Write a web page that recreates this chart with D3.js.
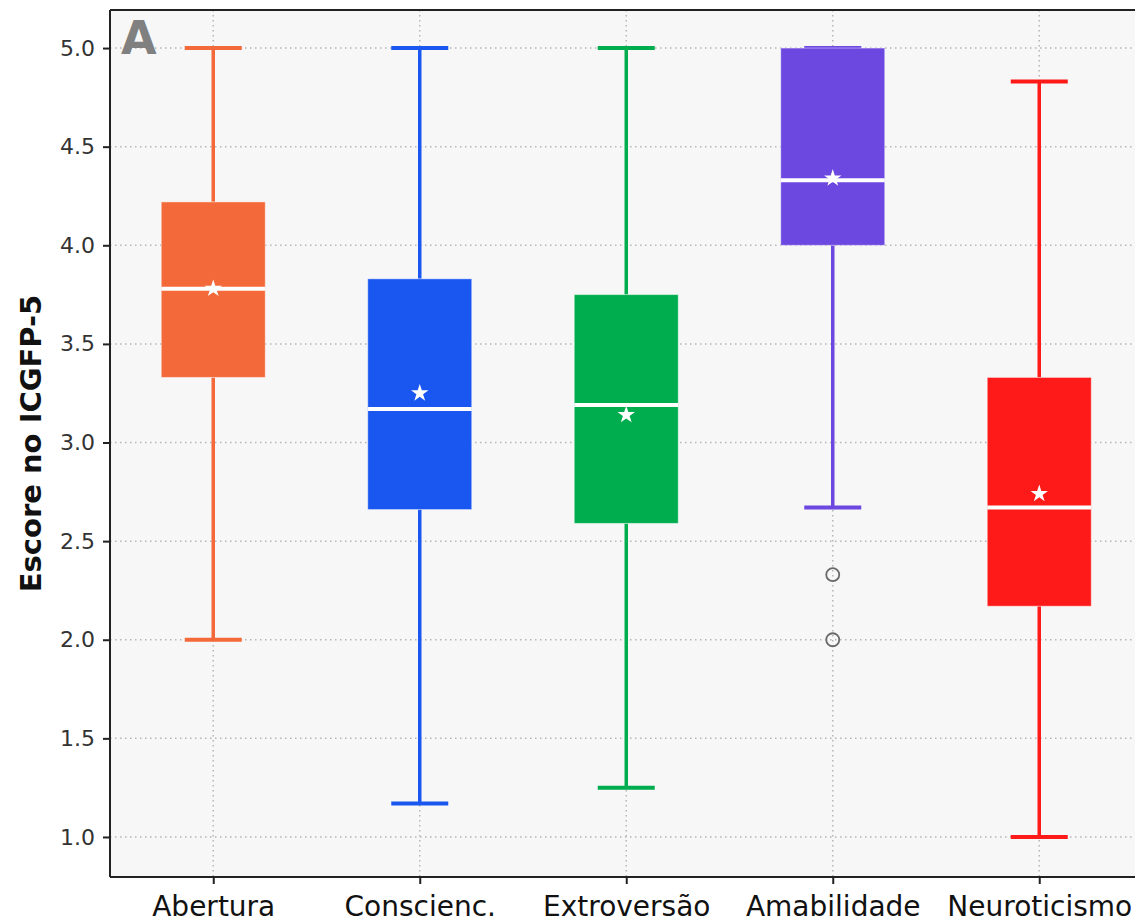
<html>
<head>
<meta charset="utf-8">
<style>
  html, body { margin: 0; padding: 0; background: #ffffff; font-family: "DejaVu Sans", sans-serif; overflow: hidden; }
  svg { display: block; overflow: hidden; }
</style>
</head>
<body>
<script src="https://d3js.org/d3.v7.min.js"></script>
<div id="graph_item"></div>
<script>
// data
var categories = ["Abertura", "Conscienc.", "Extroversão", "Amabilidade", "Neuroticismo"];
var colors     = ["#f4693a", "#1a56f0", "#00ad4e", "#6c47e0", "#ff1a1a"];
var whiskerLow = [2.00, 1.17, 1.25, 2.67, 1.00];
var q1         = [3.33, 2.66, 2.59, 4.00, 2.17];
var medians    = [3.78, 3.17, 3.19, 4.33, 2.67];
var q3         = [4.22, 3.83, 3.75, 5.00, 3.33];
var whiskerHigh= [5.00, 5.00, 5.00, 5.00, 4.83];
var means      = [3.78, 3.25, 3.14, 4.34, 2.74];
var outliers   = [[], [], [], [2.33, 2.00], []];
var yTicks     = [1.0, 1.5, 2.0, 2.5, 3.0, 3.5, 4.0, 4.5, 5.0];

var W = 1135, H = 922;
var margin = {top: 10, left: 110, bottom: 45};
var plotRight = 1142.5;

var svg = d3.select("#graph_item").append("svg")
  .attr("width", W).attr("height", H);

var x = d3.scaleLinear().domain([0.5, 5.5]).range([margin.left, plotRight]);
var y = d3.scaleLinear().domain([0.797, 5.193]).range([H - margin.bottom, margin.top]);

// background
svg.append("rect")
  .attr("x", margin.left).attr("y", margin.top)
  .attr("width", plotRight - margin.left).attr("height", H - margin.bottom - margin.top)
  .attr("fill", "#f7f7f7");

// grid
svg.append("g").selectAll("line")
  .data(yTicks)
  .join("line")
    .attr("x1", margin.left).attr("x2", plotRight)
    .attr("y1", d => y(d)).attr("y2", d => y(d))
    .attr("stroke", "#b5b5b5").attr("stroke-width", 1.5)
    .attr("stroke-dasharray", "1.5,3.5");
svg.append("g").selectAll("line")
  .data(categories)
  .join("line")
    .attr("x1", (d, i) => x(i + 1)).attr("x2", (d, i) => x(i + 1))
    .attr("y1", margin.top).attr("y2", H - margin.bottom)
    .attr("stroke", "#b5b5b5").attr("stroke-width", 1.5)
    .attr("stroke-dasharray", "1.5,3.5");

var boxW = 104, capW = 57;

var g = svg.append("g").selectAll("g")
  .data(categories)
  .join("g");

// whiskers
g.append("line")
  .attr("x1", (d, i) => x(i + 1)).attr("x2", (d, i) => x(i + 1))
  .attr("y1", (d, i) => y(whiskerLow[i])).attr("y2", (d, i) => y(q1[i]))
  .attr("stroke", (d, i) => colors[i]).attr("stroke-width", 3.5);
g.append("line")
  .attr("x1", (d, i) => x(i + 1)).attr("x2", (d, i) => x(i + 1))
  .attr("y1", (d, i) => y(whiskerHigh[i])).attr("y2", (d, i) => y(q3[i]))
  .attr("stroke", (d, i) => colors[i]).attr("stroke-width", 3.5);
// caps
[whiskerLow, whiskerHigh].forEach(function(arr){
  g.append("line")
    .attr("x1", (d, i) => x(i + 1) - capW / 2).attr("x2", (d, i) => x(i + 1) + capW / 2)
    .attr("y1", (d, i) => y(arr[i])).attr("y2", (d, i) => y(arr[i]))
    .attr("stroke", (d, i) => colors[i]).attr("stroke-width", 4);
});

// boxes
g.append("rect")
  .attr("x", (d, i) => x(i + 1) - boxW / 2)
  .attr("y", (d, i) => y(q3[i]))
  .attr("width", boxW)
  .attr("height", (d, i) => y(q1[i]) - y(q3[i]))
  .attr("fill", (d, i) => colors[i])
  .attr("stroke", "#ffffff").attr("stroke-opacity", 0.45).attr("stroke-width", 1);

// medians
g.append("line")
  .attr("x1", (d, i) => x(i + 1) - boxW / 2).attr("x2", (d, i) => x(i + 1) + boxW / 2)
  .attr("y1", (d, i) => y(medians[i])).attr("y2", (d, i) => y(medians[i]))
  .attr("stroke", "#ffffff").attr("stroke-width", 4);

// means
g.append("path")
  .attr("d", d3.symbol().type(d3.symbolStar).size(95))
  .attr("transform", (d, i) => "translate(" + x(i + 1) + "," + y(means[i]) + ")")
  .attr("fill", "#ffffff");

// outliers
g.each(function(d, i){
  d3.select(this).selectAll("circle")
    .data(outliers[i])
    .join("circle")
      .attr("cx", x(i + 1)).attr("cy", v => y(v))
      .attr("r", 6.5)
      .attr("fill", "none").attr("stroke", "#6a6a6a").attr("stroke-width", 1.8);
});

// frame: left, top, bottom (right side falls outside the picture)
var frame = svg.append("g").attr("stroke", "#222").attr("stroke-width", 2);
frame.append("line").attr("x1", margin.left).attr("x2", margin.left)
  .attr("y1", margin.top).attr("y2", H - margin.bottom);
frame.append("line").attr("x1", margin.left).attr("x2", plotRight)
  .attr("y1", margin.top).attr("y2", margin.top);
frame.append("line").attr("x1", margin.left).attr("x2", plotRight)
  .attr("y1", H - margin.bottom).attr("y2", H - margin.bottom);

// y axis
var yAxis = svg.append("g")
  .attr("transform", "translate(" + margin.left + ",0)")
  .call(d3.axisLeft(y).tickValues(yTicks).tickFormat(d3.format(".1f")).tickSize(7).tickPadding(8))
  .call(g => g.select(".domain").remove());
yAxis.selectAll("line").attr("stroke", "#222").attr("stroke-width", 2);
yAxis.selectAll("text").attr("font-size", "22px").attr("fill", "#333")
  .attr("font-family", "DejaVu Sans, sans-serif");

// x axis
var xAxis = svg.append("g")
  .attr("transform", "translate(0," + (H - margin.bottom) + ")")
  .call(d3.axisBottom(x).tickValues([1, 2, 3, 4, 5]).tickFormat((d) => categories[d - 1]).tickSize(7).tickPadding(12))
  .call(g => g.select(".domain").remove());
xAxis.selectAll("line").attr("stroke", "#222").attr("stroke-width", 2);
xAxis.selectAll("text").attr("font-size", "28px").attr("fill", "#111")
  .attr("font-family", "DejaVu Sans, sans-serif");

// y label
svg.append("text")
  .attr("transform", "translate(41," + ((margin.top + H - margin.bottom) / 2) + ") rotate(-90)")
  .attr("text-anchor", "middle")
  .attr("font-size", "29px").attr("font-weight", "bold").attr("fill", "#111")
  .text("Escore no ICGFP-5");

// panel letter
svg.append("text")
  .attr("x", 121).attr("y", 54)
  .attr("font-size", "46px").attr("font-weight", "bold").attr("fill", "#808080")
  .text("A");
</script>
</body>
</html>
